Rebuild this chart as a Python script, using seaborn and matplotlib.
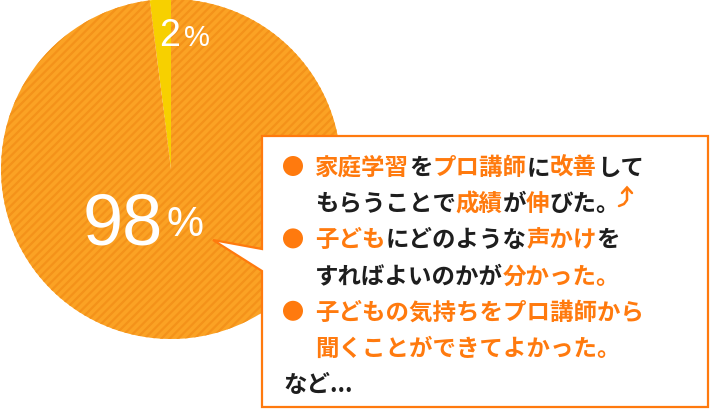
import matplotlib
matplotlib.use("Agg")
import matplotlib.pyplot as plt
from matplotlib.patches import Polygon, Circle
import seaborn as sns

# ---------------------------------------------------------------------------
# Data
# ---------------------------------------------------------------------------
slice_values = [2, 98]
slice_labels = ["2", "98"]
slice_colors = ["#F7D000", "#FBA224"]
stripe_color = "#F4921A"

# each comment line: list of (text, highlighted)
comment_lines = [
    [("家庭学習", True), ("を", False), ("プロ講師", True), ("に", False), ("改善", True), ("して", False)],
    [("もらうことで", False), ("成績", True), ("が", False), ("伸", True), ("びた。", False)],
    [("子ども", True), ("にどのような", False), ("声かけ", True), ("を", False)],
    [("すればよいのかが", False), ("分かった。", True)],
    [("子どもの気持ちをプロ講師から", True)],
    [("聞くことができてよかった。", True)],
]
bullet_rows = [0, 2, 4]
closing_text = "など..."

ORANGE = "#FF7A0E"
DARK = "#1E1E1E"
JP_FONT = ["Noto Sans CJK JP", "DejaVu Sans"]
NUM_FONT = ["Liberation Sans", "DejaVu Sans"]

sns.set_theme(style="white")
plt.rcParams["font.family"] = JP_FONT
plt.rcParams["hatch.linewidth"] = 1.6

W, H = 710, 410
fig = plt.figure(figsize=(W / 100, H / 100), dpi=100)
ax = fig.add_axes([0, 0, 1, 1])


def Y(y):
    """pixel row (top-down) -> axes y."""
    return H - y


# ---------------------------------------------------------------------------
# Pie
# ---------------------------------------------------------------------------
wedges, _ = ax.pie(
    slice_values,
    colors=slice_colors,
    startangle=90,
    counterclock=True,
    center=(171, Y(170)),
    radius=170,
    hatch=["", "////"],
    wedgeprops=dict(linewidth=0),
)
wedges[0].set_edgecolor(slice_colors[0])
wedges[1].set_edgecolor(stripe_color)
for w in wedges:
    w.set_linewidth(0)

# percentage labels
ax.text(159, Y(46), slice_labels[0], color="white", fontsize=27,
        family=NUM_FONT, ha="left", va="baseline")
ax.text(184, Y(46), "%", color="white", fontsize=21,
        family=NUM_FONT, ha="left", va="baseline")
ax.text(163, Y(245), slice_labels[1], color="white", fontsize=52,
        family=NUM_FONT, ha="right", va="baseline")
ax.text(166, Y(236), "%", color="white", fontsize=30,
        family=NUM_FONT, ha="left", va="baseline")

# ---------------------------------------------------------------------------
# Callout box
# ---------------------------------------------------------------------------
box_pts = [(262, 137), (708, 137), (708, 408), (262, 408),
           (262, 272), (213, 241), (262, 250)]
box = Polygon([(x, Y(y)) for x, y in box_pts], closed=True,
              facecolor="white", edgecolor=ORANGE, linewidth=1.6,
              joinstyle="miter", zorder=3)
ax.add_patch(box)

TEXT_X = 315
first_center = 167
row_step = 36.2
fs = 16.9
em = fs * 100 / 72  # full-width glyph advance in px

for i, segs in enumerate(comment_lines):
    cy = first_center + i * row_step
    x = TEXT_X
    for txt, hi in segs:
        ax.text(x, Y(cy + 8), txt, color=ORANGE if hi else DARK,
                fontsize=fs, weight="bold", ha="left", va="baseline",
                zorder=4)
        x += len(txt) * em
    if i == 1:
        # small curved "up" arrow (glyph not available in installed fonts)
        ax.plot([619, 624, 627, 627], [Y(207), Y(205), Y(201), Y(189)],
                color=ORANGE, lw=1.8, solid_capstyle="round", zorder=4)
        ax.plot([622, 627, 632], [Y(194), Y(188.5), Y(194)],
                color=ORANGE, lw=1.8, solid_capstyle="round",
                solid_joinstyle="miter", zorder=4)

for r in bullet_rows:
    cy = first_center + r * row_step
    ax.add_patch(Circle((293, Y(cy)), 10, facecolor=ORANGE,
                        edgecolor="none", zorder=4))

ax.text(283, Y(first_center + 6 * row_step + 8), closing_text, color=DARK,
        fontsize=fs, weight="bold", ha="left", va="baseline", zorder=4)

ax.set_xlim(0, W)
ax.set_ylim(0, H)
ax.set_aspect("equal")
ax.axis("off")

fig.savefig("out.png", dpi=100, facecolor="white")
